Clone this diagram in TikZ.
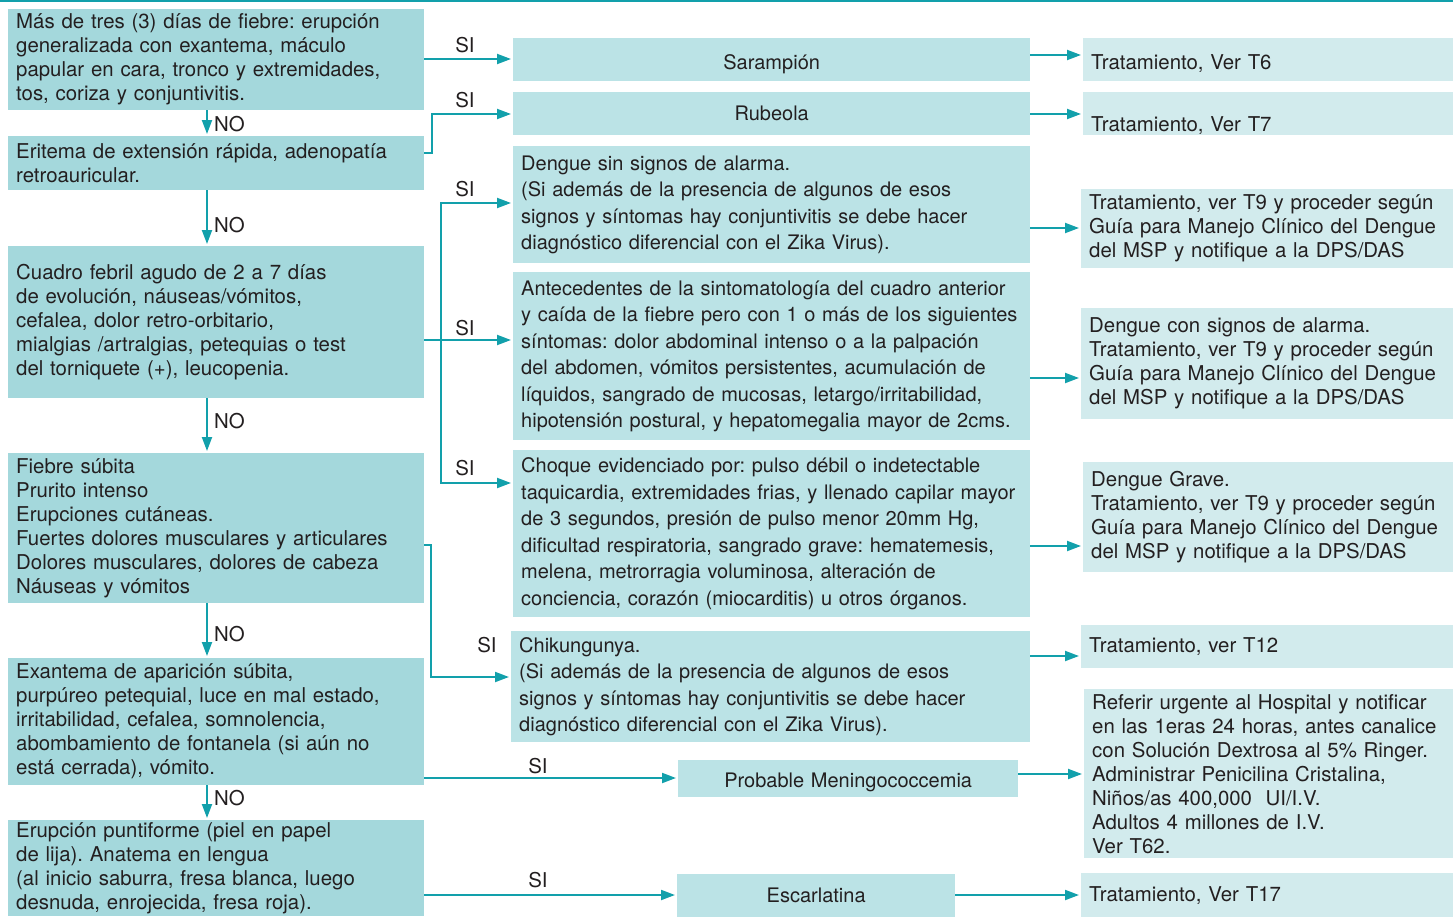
\documentclass[tikz,border=0pt]{standalone}
\usepackage{fontspec}
\setmainfont{TeX Gyre Heros}
\frenchspacing
\usetikzlibrary{arrows.meta}
\definecolor{tealline}{HTML}{12A0AB}
\definecolor{boxdark}{HTML}{A4D8DC}
\definecolor{boxmid}{HTML}{BBE3E6}
\definecolor{boxlight}{HTML}{D2EBED}
\definecolor{textgray}{HTML}{231F20}

\begin{document}
\begin{tikzpicture}[x=1pt,y=-1pt,
  every node/.style={text=textgray},
  leftbox/.style={fill=boxdark, anchor=north west, minimum width=416pt, text width=400pt,
    inner xsep=8pt, inner ysep=0pt, align=left, font=\fontsize{20.4}{24}\selectfont},
  midbox/.style={fill=boxmid, anchor=north west, minimum width=517pt, text width=501pt,
    inner xsep=8pt, inner ysep=0pt, align=left, font=\fontsize{20}{26.5}\selectfont},
  rightbox/.style={fill=boxlight, anchor=north west, minimum width=370pt, text width=362pt,
    inner xsep=8pt, inner ysep=0pt, align=left, font=\fontsize{20.4}{24}\selectfont},
  flow/.style={draw=tealline, line width=2pt, shorten >=2pt, -{Triangle[length=14pt,width=10pt]}},
  lbl/.style={inner sep=0pt, font=\fontsize{20.4}{24}\selectfont}]
\useasboundingbox (0,0) rectangle (1453,918);
\draw[tealline, line width=2pt] (0,1) -- (1453,1);

% left column: symptoms
\node[leftbox, minimum height=101pt] (sintoma1) at (8,9) {M\'as de tres (3) d\'ias de fiebre: erupci\'on\\generalizada con exantema, m\'aculo\\papular en cara, tronco y extremidades,\\tos, coriza y conjuntivitis.};
\node[leftbox, minimum height=54pt] (sintoma2) at (8,136) {Eritema de extensi\'on r\'apida, adenopat\'ia\\retroauricular.};
\node[leftbox, minimum height=152pt] (sintoma3) at (8,246) {Cuadro febril agudo de 2 a 7 d\'ias\\de evoluci\'on, n\'auseas/v\'omitos,\\cefalea, dolor retro-orbitario,\\mialgias /artralgias, petequias o test\\del torniquete (+), leucopenia.};
\node[leftbox, minimum height=150pt] (sintoma4) at (8,453) {Fiebre s\'ubita\\Prurito intenso\\Erupciones cut\'aneas.\\Fuertes dolores musculares y articulares\\Dolores musculares, dolores de cabeza\\N\'auseas y v\'omitos};
\node[leftbox, minimum height=127pt] (sintoma5) at (8,658) {Exantema de aparici\'on s\'ubita,\\purp\'ureo petequial, luce en mal estado,\\irritabilidad, cefalea, somnolencia,\\abombamiento de fontanela (si a\'un no\\est\'a cerrada), v\'omito.};
\node[leftbox, minimum height=96pt] (sintoma6) at (8,820) {Erupci\'on puntiforme (piel en papel\\de lija). Anatema en lengua\\(al inicio saburra, fresa blanca, luego\\desnuda, enrojecida, fresa roja).};

% middle column: diagnosis
\node[midbox, minimum height=43pt, align=center, text height=20pt, text depth=0pt] (sarampion) at (513,38) {Sarampi\'on};
\node[midbox, minimum height=43pt, align=center] (rubeola) at (513,92) {Rubeola};
\node[midbox, minimum height=117pt] (dengue1) at (513,146) {Dengue sin signos de alarma.\\(Si adem\'as de la presencia de algunos de esos\\signos y s\'intomas hay conjuntivitis se debe hacer\\diagn\'ostico diferencial con el Zika Virus).};
\node[midbox, minimum height=168pt] (dengue2) at (513,272) {Antecedentes de la sintomatolog\'ia del cuadro anterior\\y ca\'ida de la fiebre pero con 1 o m\'as de los siguientes\\s\'intomas: dolor abdominal intenso o a la palpaci\'on\\del abdomen, v\'omitos persistentes, acumulaci\'on de\\l\'iquidos, sangrado de mucosas, letargo/irritabilidad,\\hipotensi\'on postural, y hepatomegalia mayor de 2cms.};
\node[midbox, minimum height=167pt] (dengue3) at (513,450) {Choque evidenciado por: pulso d\'ebil o indetectable\\taquicardia, extremidades frias, y llenado capilar mayor\\de 3 segundos, presi\'on de pulso menor 20mm Hg,\\dificultad respiratoria, sangrado grave: hematemesis,\\melena, metrorragia voluminosa, alteraci\'on de\\conciencia, coraz\'on (miocarditis) u otros \'organos.};
\node[midbox, minimum height=111pt, minimum width=519pt, text width=503pt] (chikun) at (511,631) {Chikungunya.\\(Si adem\'as de la presencia de algunos de esos\\signos y s\'intomas hay conjuntivitis se debe hacer\\diagn\'ostico diferencial con el Zika Virus).};
\node[midbox, minimum height=37pt, minimum width=340pt, text width=324pt, align=center, text height=17pt, text depth=0pt] (mening) at (678,760) {Probable Meningococcemia};
\node[midbox, minimum height=43pt, minimum width=278pt, text width=262pt, align=center] (escarl) at (677,874) {Escarlatina};

% right column: treatment
\node[rightbox, minimum height=43pt, text height=20pt, text depth=0pt] (trat1) at (1083,38) {Tratamiento, Ver T6};
\node[rightbox, minimum height=43pt, text height=36pt, text depth=0pt] (trat2) at (1083,92) {Tratamiento, Ver T7};
\node[rightbox, minimum height=79pt] (trat3) at (1081,189) {Tratamiento, ver T9 y proceder seg\'un\\Gu\'ia para Manejo Cl\'inico del Dengue\\del MSP y notifique a la DPS/DAS};
\node[rightbox, minimum height=111pt] (trat4) at (1081,308) {Dengue con signos de alarma.\\Tratamiento, ver T9 y proceder seg\'un\\Gu\'ia para Manejo Cl\'inico del Dengue\\del MSP y notifique a la DPS/DAS};
\node[rightbox, minimum height=110pt] (trat5) at (1083,462) {Dengue Grave.\\Tratamiento, ver T9 y proceder seg\'un\\Gu\'ia para Manejo Cl\'inico del Dengue\\del MSP y notifique a la DPS/DAS};
\node[rightbox, minimum height=43pt] (trat6) at (1081,625) {Tratamiento, ver T12};
\node[rightbox, minimum height=169pt] (trat7) at (1084,689) {Referir urgente al Hospital y notificar\\en las 1eras 24 horas, antes canalice\\con Soluci\'on Dextrosa al 5\% Ringer.\\Administrar Penicilina Cristalina,\\Ni\~nos/as 400,000\ \ UI/I.V.\\Adultos 4 millones de I.V.\\Ver T62.};
\node[rightbox, minimum height=44pt] (trat8) at (1081,873) {Tratamiento, Ver T17};

% NO arrows
\draw[flow] (sintoma1.south -| 207,0) -- (sintoma2.north -| 207,0);
\draw[flow] (sintoma2.south -| 207,0) -- (sintoma3.north -| 207,0);
\draw[flow] (sintoma3.south -| 207,0) -- (sintoma4.north -| 207,0);
\draw[flow] (sintoma4.south -| 207,0) -- (sintoma5.north -| 207,0);
\draw[flow] (sintoma5.south -| 207,0) -- (sintoma6.north -| 207,0);
\node[lbl, anchor=west] at (214,124) {NO};
\node[lbl, anchor=west] at (214,225) {NO};
\node[lbl, anchor=west] at (214,421) {NO};
\node[lbl, anchor=west] at (214,634) {NO};
\node[lbl, anchor=west] at (214,798) {NO};

% SI arrows
\draw[flow] (sintoma1.east |- 0,59) -- (sarampion.west |- 0,59);
\draw[flow] (sintoma2.east |- 0,153) -- (432,153) |- (rubeola.west |- 0,114);
\coordinate (bus) at (441,340);
\draw[flow] (sintoma3.east |- bus) -- (dengue2.west |- bus);
\draw[flow] (bus) |- (dengue1.west |- 0,203);
\draw[flow] (bus) |- (dengue3.west |- 0,483);
\draw[flow] (sintoma4.east |- 0,545) -- (431,545) |- (chikun.west |- 0,677);
\draw[flow] (sintoma5.east |- 0,778) -- (mening.west |- 0,778);
\draw[flow] (sintoma6.east |- 0,895) -- (escarl.west |- 0,895);
\node[lbl] at (465,45) {SI};
\node[lbl] at (465,100) {SI};
\node[lbl] at (465,189) {SI};
\node[lbl] at (465,328) {SI};
\node[lbl] at (465,468) {SI};
\node[lbl] at (487,645) {SI};
\node[lbl] at (538,766) {SI};
\node[lbl] at (538,880) {SI};

% to treatment
\draw[flow] (sarampion.east |- 0,55) -- (trat1.west |- 0,55);
\draw[flow] (rubeola.east |- 0,114) -- (trat2.west |- 0,114);
\draw[flow] (dengue1.east |- 0,228) -- (trat3.west |- 0,228);
\draw[flow] (dengue2.east |- 0,378) -- (trat4.west |- 0,378);
\draw[flow] (dengue3.east |- 0,546) -- (trat5.west |- 0,546);
\draw[flow] (chikun.east |- 0,656) -- (trat6.west |- 0,656);
\draw[flow] (mening.east |- 0,774) -- (trat7.west |- 0,774);
\draw[flow] (escarl.east |- 0,895) -- (trat8.west |- 0,895);
\end{tikzpicture}
\end{document}
